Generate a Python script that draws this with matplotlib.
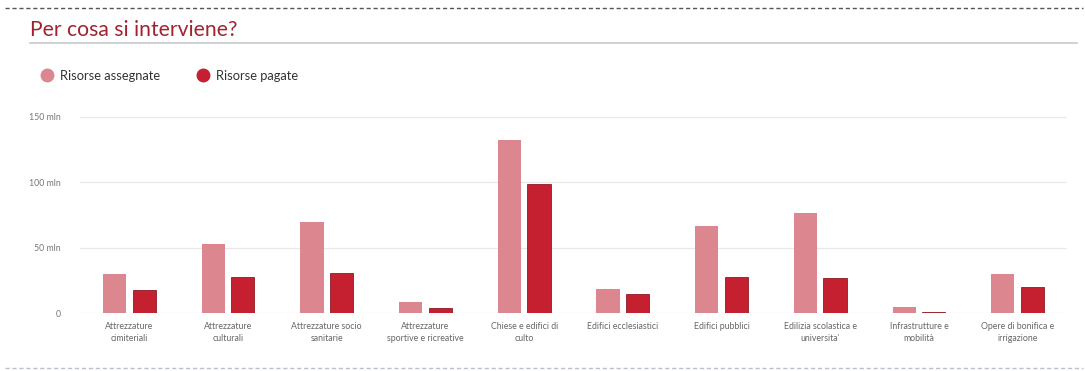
import matplotlib.pyplot as plt
from matplotlib.lines import Line2D
import numpy as np

plt.rcParams["font.family"] = ["Lato", "DejaVu Sans"]

categories = [
    "Attrezzature\ncimiteriali",
    "Attrezzature\nculturali",
    "Attrezzature socio\nsanitarie",
    "Attrezzature\nsportive e ricreative",
    "Chiese e edifici di\nculto",
    "Edifici ecclesiastici",
    "Edifici pubblici",
    "Edilizia scolastica e\nuniversita'",
    "Infrastrutture e\nmobilità",
    "Opere di bonifica e\nirrigazione",
]
assegnate = [30, 53, 70, 8.4, 132, 18.5, 66.5, 76.5, 4.6, 30]
pagate = [18, 28, 31, 4.3, 98.5, 14.5, 27.5, 26.7, 1, 20.3]
yticks = [0, 50, 100, 150]
ytick_labels = ["0", "50 mln", "100 mln", "150 mln"]

light = "#dc8790"
dark = "#c4202f"
W, H = 1085, 371

fig = plt.figure(figsize=(W / 100, H / 100), dpi=100)

# dashed frame lines at top and bottom
fig.add_artist(Line2D([0.005, 0.998], [1 - 8 / H, 1 - 8 / H], color="#555555",
                      lw=1, ls=(0, (3, 2))))
fig.add_artist(Line2D([0.005, 0.998], [1 - 368 / H, 1 - 368 / H], color="#9aa6b8",
                      lw=1, ls=(0, (3, 2)), alpha=0.7))

# title and rule
fig.text(30 / W, 1 - 30 / H, "Per cosa si interviene?", color="#a1232f",
         fontsize=15.2, va="center", ha="left")
fig.add_artist(Line2D([30 / W, 1077 / W], [1 - 43 / H, 1 - 43 / H],
                      color="#c8c8c8", lw=1.2))

ax = fig.add_axes([80 / W, 1 - 313.3 / H, (1067 - 80) / W, (313.3 - 116.7) / H])
x = np.arange(len(categories))
bw = 0.235
ax.bar(x - 0.15, assegnate, width=bw, color=light, zorder=3,
       label="Risorse assegnate")
ax.bar(x + 0.15, pagate, width=bw, color=dark, edgecolor="#8e1a24", lw=0.6,
       zorder=3, label="Risorse pagate")

ax.set_xlim(-0.5, len(categories) - 0.5)
ax.set_ylim(0, 150)
ax.set_yticks(yticks)
ax.set_yticklabels(ytick_labels)
ax.set_xticks(x)
ax.set_xticklabels(categories, fontsize=6.3, color="#666666", linespacing=1.5)
ax.tick_params(axis="y", length=0, pad=14, labelsize=6.3, labelcolor="#777777")
ax.tick_params(axis="x", length=0, pad=6)
ax.grid(axis="y", color="#e8e8e8", lw=0.9, zorder=0)
for s in ax.spines.values():
    s.set_visible(False)

handles = [
    Line2D([], [], marker="o", ls="", ms=9, color=light),
    Line2D([], [], marker="o", ls="", ms=9, color=dark),
]
fig.legend(handles, ["Risorse assegnate", "Risorse pagate"],
           loc="center left", bbox_to_anchor=(22 / W, 1 - 76 / H), ncol=2,
           frameon=False, fontsize=9.3, handletextpad=0.05, columnspacing=2.3,
           labelcolor="#333333")

fig.savefig("out.png", dpi=100)
